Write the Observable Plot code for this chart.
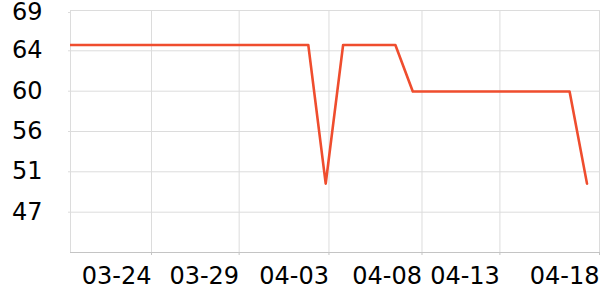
<!DOCTYPE html>
<html>
<head>
<meta charset="utf-8">
<script src="https://cdn.jsdelivr.net/npm/d3@7"></script>
<script src="https://cdn.jsdelivr.net/npm/@observablehq/plot@0.6"></script>
<style>
  html, body { margin: 0; padding: 0; background: #fff; }
  #chart svg { display: block; font-family: "DejaVu Sans", sans-serif; }
</style>
</head>
<body>
<div id="chart"></div>
<script>
// Data (daily readings)
const dates = [
  "2025-03-19","2025-03-20","2025-03-21","2025-03-22","2025-03-23","2025-03-24",
  "2025-03-25","2025-03-26","2025-03-27","2025-03-28","2025-03-29","2025-03-30",
  "2025-03-31","2025-04-01","2025-04-02","2025-04-03","2025-04-04","2025-04-05",
  "2025-04-06","2025-04-07","2025-04-08","2025-04-09","2025-04-10","2025-04-11",
  "2025-04-12","2025-04-13","2025-04-14","2025-04-15","2025-04-16","2025-04-17",
  "2025-04-18"
];
const values = [
  65.3, 65.3, 65.3, 65.3, 65.3, 65.3,
  65.3, 65.3, 65.3, 65.3, 65.3, 65.3,
  65.3, 65.3, 65.3, 50.4, 65.3, 65.3,
  65.3, 65.3, 60.3, 60.3, 60.3, 60.3,
  60.3, 60.3, 60.3, 60.3, 60.3, 60.3,
  50.4
];

// Axis ticks
const xDomain = ["2025-03-19T08:24Z", "2025-04-18T18:36Z"];
const xTicks = ["2025-03-24T00:00Z", "2025-03-29T00:45Z", "2025-04-03T04:30Z",
                "2025-04-08T12:40Z", "2025-04-13T00:00Z", "2025-04-18T17:15Z"];
const yDomain = [43, 69];
const yTicks = [47.33, 51.67, 56, 60.33, 64.67, 69];
const yTickLabels = ["47", "51", "56", "60", "64", "69"];

const data = dates.map((d, i) => ({date: new Date(d + "T00:00Z"), value: values[i]}));
const xd = xDomain.map(d => new Date(d));
const xt = xTicks.map(d => new Date(d));
const fmt = d3.utcFormat("%m-%d");
const yFmt = d => yTickLabels[yTicks.indexOf(d)];
const yTop = yTicks[yTicks.length - 1];

const chart = Plot.plot({
  width: 600,
  height: 300,
  marginLeft: 70,
  marginRight: 0,
  marginTop: 10,
  marginBottom: 48,
  style: {fontFamily: "DejaVu Sans, sans-serif", background: "#fff", color: "#000"},
  x: {type: "utc", domain: xd},
  y: {domain: yDomain},
  marks: [
    Plot.gridY(yTicks, {stroke: "#dcdcdc", strokeOpacity: 1}),
    Plot.gridX(xt.filter(d => d < xd[1]), {stroke: "#dcdcdc", strokeOpacity: 1}),
    Plot.ruleX([xd[0]], {stroke: "#dcdcdc"}),
    Plot.axisY(yTicks.filter(d => d !== yTop), {
      tickSize: 2, tickPadding: 26, stroke: "#dcdcdc", fontSize: 24, fill: "#000",
      tickFormat: yFmt, label: null
    }),
    Plot.axisY([yTop], {
      tickSize: 2, tickPadding: 26, stroke: "#dcdcdc", fontSize: 24, fill: "#000",
      tickFormat: yFmt, label: null, dy: 2
    }),
    Plot.ruleY([yDomain[0]], {stroke: "#c4c4c4"}),
    Plot.axisX(xt, {
      tickSize: 3, tickPadding: 11, stroke: "#c4c4c4", fontSize: 24, fill: "#000",
      textAnchor: "end", tickFormat: fmt, label: null
    }),
    Plot.line(data, {x: "date", y: "value", stroke: "#ef4d2e", strokeWidth: 2.6, clip: true})
  ]
});
document.getElementById("chart").appendChild(chart);
</script>
</body>
</html>
